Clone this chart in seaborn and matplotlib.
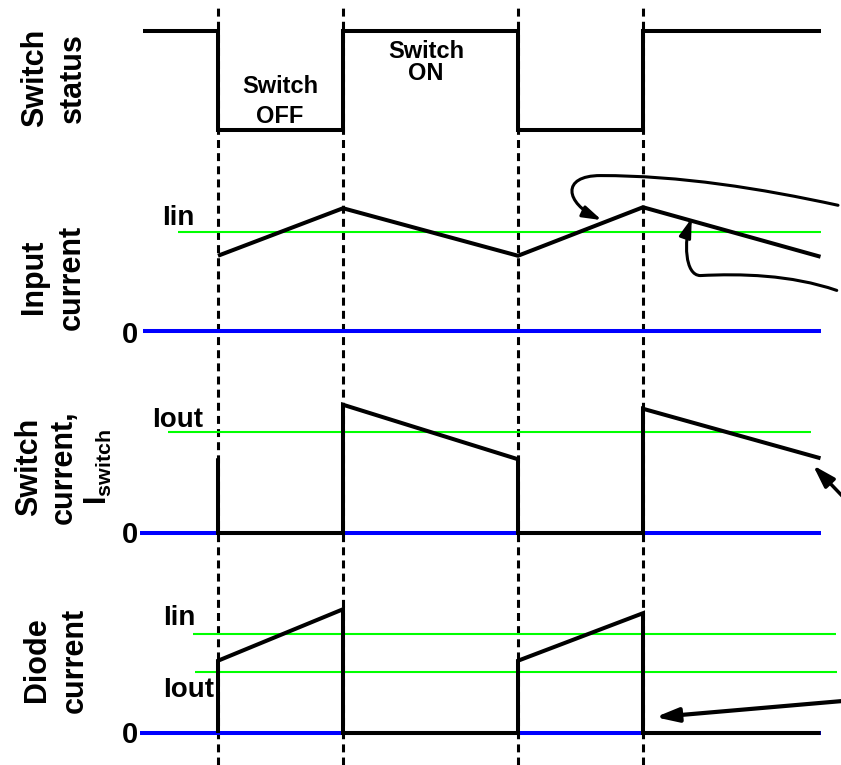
import pandas as pd
import matplotlib.pyplot as plt
import seaborn as sns
from matplotlib.patches import FancyArrowPatch
from matplotlib.path import Path

# time axis: 1 unit = switch-off interval, switch ON lasts 1.4
switch_times = [0.0, 1.0, 2.4, 3.4]

# switch status (1 = ON, 0 = OFF)
status_t = [-0.6, 0.0, 0.0, 1.0, 1.0, 2.4, 2.4, 3.4, 3.4, 4.82]
status_v = [1, 1, 0, 0, 1, 1, 0, 0, 1, 1]

# input current (triangle ripple around Iin)
input_t = [0.0, 1.0, 2.4, 3.4, 4.82]
input_v = [0.76, 1.24, 0.76, 1.25, 0.75]

# switch current
switch_t = [0.0, 0.0, 1.0, 1.0, 2.4, 2.4, 3.4, 3.4, 4.82]
switch_v = [0.74, 0.0, 0.0, 1.27, 0.73, 0.0, 0.0, 1.23, 0.74]

# diode current
diode_t = [0.0, 0.0, 1.0, 1.0, 2.4, 2.4, 3.4, 3.4, 4.82]
diode_v = [0.0, 0.73, 1.25, 0.0, 0.0, 0.73, 1.21, 0.0, 0.0]

# reference levels
input_iin = 1.0
switch_iout = 1.0
diode_iin = 1.0
diode_iout = 0.62

sns.set_style('white')
plt.rcParams['font.family'] = ['Liberation Sans', 'DejaVu Sans']
plt.rcParams['font.weight'] = 'bold'
plt.rcParams['text.color'] = 'black'
plt.rcParams['mathtext.fontset'] = 'custom'
plt.rcParams['mathtext.rm'] = 'Liberation Sans:bold'
plt.rcParams['mathtext.it'] = 'Liberation Sans:bold'
plt.rcParams['mathtext.bf'] = 'Liberation Sans:bold'

W, H = 841, 765
fig = plt.figure(figsize=(W / 100, H / 100), dpi=100)
T0, T1 = -218 / 125, (W - 218) / 125

GREEN = '#00ff00'
BLUE = '#0000ff'
narrow = ['Liberation Sans Narrow', 'Liberation Sans', 'DejaVu Sans']

# dashed switching instants across the whole figure
canvas = fig.add_axes([0, 0, 1, 1])
canvas.set_xlim(T0, T1)
canvas.set_ylim(0, 1)
canvas.axis('off')
for t in switch_times:
    canvas.axvline(t, ymin=0, ymax=1 - 7 / H, color='black', lw=2.2,
                   ls=(0, (2.6, 1.7)))


def panel(zero_px, unit_px):
    lo, hi = -0.45, 1.75
    bottom = 1 - (zero_px - lo * unit_px) / H
    height = (hi - lo) * unit_px / H
    ax = fig.add_axes([0, bottom, 1, height])
    ax.set_xlim(T0, T1)
    ax.set_ylim(lo, hi)
    ax.axis('off')
    return ax


def line(ax, t, v, **kw):
    df = pd.DataFrame({'t': t, 'v': v})
    sns.lineplot(data=df, x='t', y='v', ax=ax, sort=False, estimator=None,
                 solid_joinstyle='miter', solid_capstyle='butt', **kw)
    ax.axis('off')


def wave(ax, t, v):
    line(ax, t, v, color='black', lw=2.9, zorder=5)


def level(ax, t0, t1, v, color, lw):
    line(ax, [t0, t1], [v, v], color=color, lw=lw, zorder=3)


ax_status = panel(130, 99)
ax_input = panel(331, 99)
ax_switch = panel(533, 101)
ax_diode = panel(733, 99)

wave(ax_status, status_t, status_v)

level(ax_input, -0.32, 4.82, input_iin, GREEN, 1.5)
level(ax_input, -0.6, 4.82, 0, BLUE, 2.9)
wave(ax_input, input_t, input_v)

level(ax_switch, -0.4, 4.74, switch_iout, GREEN, 1.5)
level(ax_switch, -0.62, 4.82, 0, BLUE, 2.9)
wave(ax_switch, switch_t, switch_v)

level(ax_diode, -0.2, 4.94, diode_iin, GREEN, 1.5)
level(ax_diode, -0.18, 4.95, diode_iout, GREEN, 1.5)
level(ax_diode, -0.62, 4.82, 0, BLUE, 2.9)
wave(ax_diode, diode_t, diode_v)

# hand-drawn style pointers
C = Path.CURVE4
head = '-|>,head_length=0.45,head_width=0.14'
top_curve = Path([(4.96, 1.27), (4.34, 1.44), (3.70, 1.57), (3.06, 1.57),
                  (2.74, 1.57), (2.78, 1.29), (3.07, 1.12)],
                 [Path.MOVETO, C, C, C, C, C, C])
low_curve = Path([(4.95, 0.41), (4.58, 0.57), (4.18, 0.58), (3.86, 0.56),
                  (3.73, 0.56), (3.73, 0.92), (3.79, 1.14)],
                 [Path.MOVETO, C, C, C, C, C, C])
for p in (top_curve, low_curve):
    ax_input.add_patch(FancyArrowPatch(path=p, arrowstyle=head, mutation_scale=25,
                                       lw=2.2, color='black', clip_on=False,
                                       transform=ax_input.transData, zorder=6))
ax_switch.add_patch(FancyArrowPatch((5.06, 0.28), (4.76, 0.67), arrowstyle=head,
                                    mutation_scale=30, lw=2.5, color='black',
                                    clip_on=False, shrinkA=0, shrinkB=0, zorder=6))
ax_diode.add_patch(FancyArrowPatch((5.06, 0.33), (3.50, 0.16), arrowstyle=head,
                                   mutation_scale=30, lw=3, color='black',
                                   clip_on=False, shrinkA=0, shrinkB=0, zorder=6))


def px_text(x, y, s, **kw):
    fig.text(x / W, 1 - y / H, s, **kw)


# switch state captions
px_text(280, 93, 'Switch', fontsize=17, ha='center', va='baseline')
px_text(280, 123, 'OFF', fontsize=17, ha='center', va='baseline')
px_text(426, 58, 'Switch', fontsize=17, ha='center', va='baseline')
px_text(426, 80, 'ON', fontsize=17, ha='center', va='baseline')

# level labels
px_text(162, 225, 'Iin', fontsize=20, family=narrow, va='baseline')
px_text(152, 427, 'Iout', fontsize=20, family=narrow, va='baseline')
px_text(163, 625, 'Iin', fontsize=20, family=narrow, va='baseline')
px_text(163, 697, 'Iout', fontsize=20, family=narrow, va='baseline')
for y0 in (343, 543, 743):
    px_text(122, y0, '0', fontsize=21, va='baseline')

# panel titles
side = dict(fontsize=22, rotation=90, ha='center', va='center',
            multialignment='center', linespacing=1.35)
px_text(54, 78, 'Switch\nstatus', **side)
px_text(53, 277, 'Input\ncurrent', **side)
px_text(56, 660, 'Diode\ncurrent', **side)
side['linespacing'] = 1.2
px_text(64, 467, 'Switch\ncurrent,\nI$_{\\rm switch}$', **side)

fig.savefig('out.png', dpi=100)
